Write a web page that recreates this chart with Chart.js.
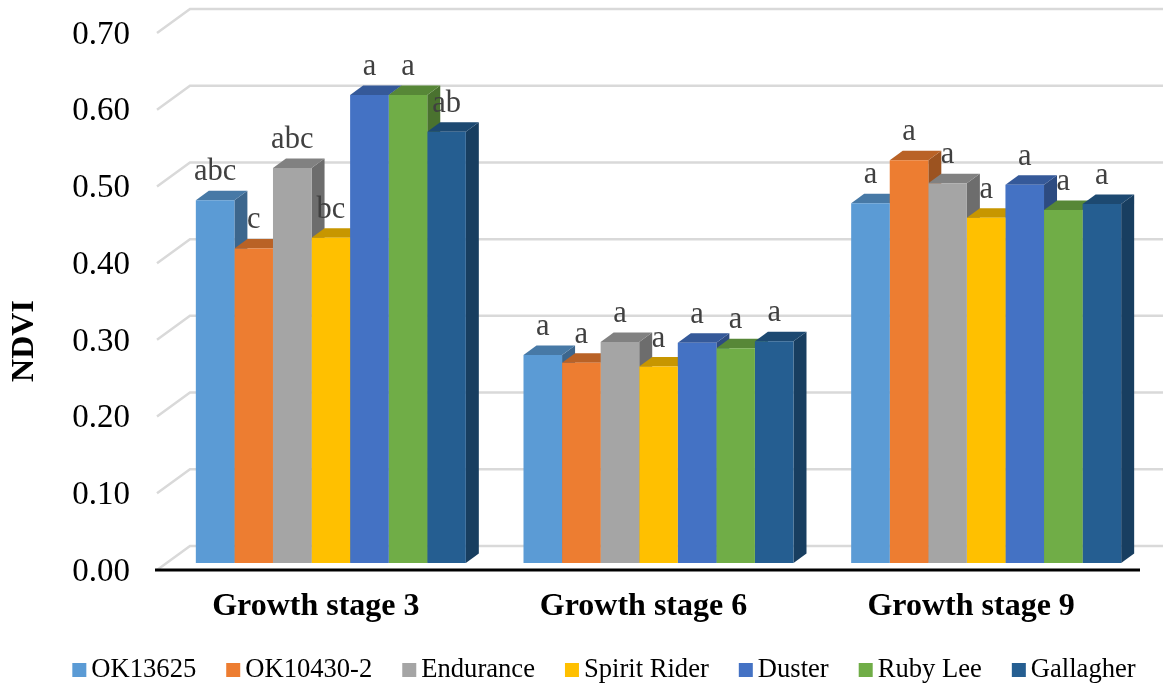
<!DOCTYPE html>
<html>
<head>
<meta charset="utf-8">
<title>NDVI by growth stage</title>
<script src="https://cdn.jsdelivr.net/npm/chart.js@4.4.1/dist/chart.umd.min.js"></script>
<style>
  html, body { margin: 0; padding: 0; background: #ffffff; }
  #wrap { width: 1163px; height: 687px; position: relative; }
  canvas { display: block; }
</style>
</head>
<body>
<div id="wrap"><canvas id="ndvi" width="1163" height="687"></canvas></div>
<script>
// Categories and series
const stages = ['Growth stage 3', 'Growth stage 6', 'Growth stage 9'];
const varieties = ['OK13625', 'OK10430-2', 'Endurance', 'Spirit Rider', 'Duster', 'Ruby Lee', 'Gallagher'];

// NDVI means per variety (stage 3, stage 6, stage 9)
const ok13625     = [0.473, 0.271, 0.469];
const ok10430_2   = [0.410, 0.261, 0.525];
const endurance   = [0.515, 0.288, 0.495];
const spiritRider = [0.424, 0.256, 0.450];
const duster      = [0.610, 0.287, 0.493];
const rubyLee     = [0.610, 0.280, 0.460];
const gallagher   = [0.562, 0.289, 0.468];

// Mean separation letters per variety (stage 3, stage 6, stage 9)
const ok13625Letters     = ['abc', 'a', 'a'];
const ok10430_2Letters   = ['c', 'a', 'a'];
const enduranceLetters   = ['abc', 'a', 'a'];
const spiritRiderLetters = ['bc', 'a', 'a'];
const dusterLetters      = ['a', 'a', 'a'];
const rubyLeeLetters     = ['a', 'a', 'a'];
const gallagherLetters   = ['ab', 'a', 'a'];

// Y axis ticks
const yMin = 0, yMax = 0.7, yStep = 0.1;

const seriesValues = [ok13625, ok10430_2, endurance, spiritRider, duster, rubyLee, gallagher];
const seriesLetters = [ok13625Letters, ok10430_2Letters, enduranceLetters, spiritRiderLetters,
                       dusterLetters, rubyLeeLetters, gallagherLetters];
const seriesColors = ['#5B9BD5', '#ED7D31', '#A5A5A5', '#FFC000', '#4472C4', '#70AD47', '#255E91'];

// Pseudo-3D geometry (pixels)
const BAR_SHIFT = { x: 10, y: -7 };     // bars stand slightly behind the floor's front edge
const BAR_DEPTH = { x: 13, y: -9.5 };   // depth of each column
const WALL_DEPTH = { x: 33, y: -24 };   // floor depth up to the back wall
const SERIF = '"Liberation Serif", "Times New Roman", serif';

function shade(hex, f) {
  const n = parseInt(hex.slice(1), 16);
  const r = Math.round(((n >> 16) & 255) * f);
  const g = Math.round(((n >> 8) & 255) * f);
  const b = Math.round((n & 255) * f);
  return `rgb(${r},${g},${b})`;
}

const columns3d = {
  id: 'columns3d',
  beforeDatasetsDraw(chart) {
    const { ctx, chartArea: a, scales: { y } } = chart;

    // side wall + back wall gridlines
    ctx.save();
    ctx.strokeStyle = '#D9D9D9';
    ctx.lineWidth = 2.5;
    y.ticks.forEach(t => {
      const py = y.getPixelForValue(t.value);
      ctx.beginPath();
      ctx.moveTo(a.left, py);
      ctx.lineTo(a.left + WALL_DEPTH.x, py + WALL_DEPTH.y);
      ctx.lineTo(chart.width, py + WALL_DEPTH.y);
      ctx.stroke();
    });
    ctx.restore();

    // shift the column plane; restored after the datasets are drawn
    ctx.save();
    ctx.translate(BAR_SHIFT.x, BAR_SHIFT.y);

    // side and top faces, left to right inside each group
    const nCat = chart.data.labels.length;
    for (let c = 0; c < nCat; c++) {
      chart.data.datasets.forEach((ds, i) => {
        const el = chart.getDatasetMeta(i).data[c];
        if (!el) return;
        const { x, y: top, base, width } = el.getProps(['x', 'y', 'base', 'width'], true);
        const L = x - width / 2, R = x + width / 2;
        const col = seriesColors[i];
        // right side face
        ctx.fillStyle = shade(col, 0.66);
        ctx.beginPath();
        ctx.moveTo(R, top);
        ctx.lineTo(R + BAR_DEPTH.x, top + BAR_DEPTH.y);
        ctx.lineTo(R + BAR_DEPTH.x, base + BAR_DEPTH.y);
        ctx.lineTo(R, base);
        ctx.closePath();
        ctx.fill();
        // top face
        ctx.fillStyle = shade(col, 0.78);
        ctx.beginPath();
        ctx.moveTo(L, top);
        ctx.lineTo(R, top);
        ctx.lineTo(R + BAR_DEPTH.x, top + BAR_DEPTH.y);
        ctx.lineTo(L + BAR_DEPTH.x, top + BAR_DEPTH.y);
        ctx.closePath();
        ctx.fill();
      });
    }
  },
  afterDatasetsDraw(chart) {
    const { ctx } = chart;
    // letters above the columns (still in the shifted column plane)
    ctx.fillStyle = '#404040';
    ctx.font = `30.5px ${SERIF}`;
    ctx.textAlign = 'center';
    ctx.textBaseline = 'alphabetic';
    chart.data.datasets.forEach((ds, i) => {
      chart.getDatasetMeta(i).data.forEach((el, c) => {
        const { x, y: top } = el.getProps(['x', 'y'], true);
        ctx.fillText(seriesLetters[i][c], x, top - 20);
      });
    });
    ctx.restore();

    // thick front edge of the floor
    const a = chart.chartArea;
    ctx.save();
    ctx.strokeStyle = '#000000';
    ctx.lineWidth = 3;
    ctx.beginPath();
    ctx.moveTo(a.left - 2, a.bottom);
    ctx.lineTo(a.right, a.bottom);
    ctx.stroke();
    ctx.restore();
  },
  afterDraw(chart) {
    const { ctx } = chart;
    ctx.save();
    // y axis title
    ctx.translate(25, 341);
    ctx.rotate(-Math.PI / 2);
    ctx.fillStyle = '#000000';
    ctx.font = `bold 32px ${SERIF}`;
    ctx.textAlign = 'center';
    ctx.textBaseline = 'middle';
    ctx.fillText('NDVI', 0, 0);
    ctx.restore();

    // legend
    ctx.save();
    ctx.font = `26.6px ${SERIF}`;
    ctx.textBaseline = 'middle';
    ctx.textAlign = 'left';
    const box = 14, gapText = 5, gapItem = 30;
    const widths = varieties.map(v => ctx.measureText(v).width);
    const total = widths.reduce((s, w) => s + box + gapText + w, 0) + gapItem * (varieties.length - 1);
    let x = 604 - total / 2;
    const yMid = 670;
    varieties.forEach((v, i) => {
      ctx.fillStyle = seriesColors[i];
      ctx.fillRect(x, yMid - 7, box, box);
      ctx.fillStyle = '#000000';
      ctx.fillText(v, x + box + gapText, yMid);
      x += box + gapText + widths[i] + gapItem;
    });
    ctx.restore();
  }
};

new Chart(document.getElementById('ndvi'), {
  type: 'bar',
  data: {
    labels: stages,
    datasets: varieties.map((name, i) => ({
      label: name,
      data: seriesValues[i],
      backgroundColor: seriesColors[i],
      borderWidth: 0
    }))
  },
  options: {
    responsive: false,
    animation: false,
    devicePixelRatio: 1,
    layout: { padding: { top: 33, right: 23, left: 0, bottom: 0 } },
    datasets: { bar: { barPercentage: 1, categoryPercentage: 0.824 } },
    plugins: { legend: { display: false }, tooltip: { enabled: false } },
    scales: {
      x: {
        grid: { display: false, drawTicks: false },
        border: { display: false },
        ticks: {
          color: '#000000',
          font: { family: SERIF, size: 32, weight: 'bold' },
          padding: 18,
          labelOffset: -5,
          maxRotation: 0
        },
        afterFit(scale) { scale.height = 117; }
      },
      y: {
        min: yMin,
        max: yMax,
        grid: { display: false, drawTicks: false },
        border: { display: false },
        ticks: {
          stepSize: yStep,
          color: '#000000',
          font: { family: SERIF, size: 33 },
          padding: 27,
          labelOffset: 2,
          callback: v => Number(v).toFixed(2)
        },
        afterFit(scale) {
          scale.width = 157;
          scale.paddingTop = 0;
          scale.paddingBottom = 0;
        }
      }
    }
  },
  plugins: [columns3d]
});
</script>
</body>
</html>
